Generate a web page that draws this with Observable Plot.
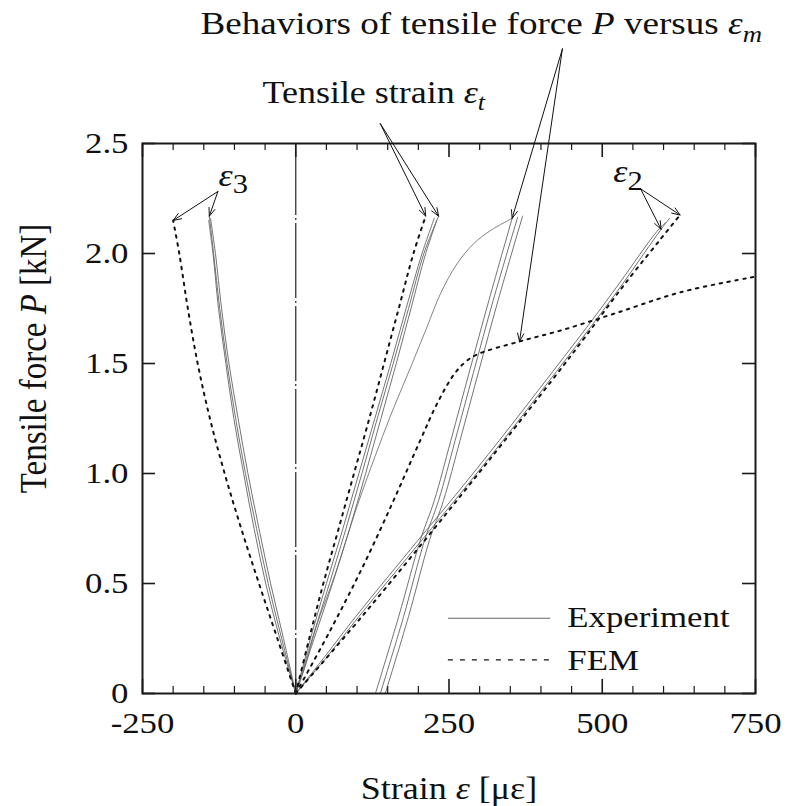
<!DOCTYPE html>
<html>
<head>
<meta charset="utf-8">
<script src="https://cdn.jsdelivr.net/npm/d3@7"></script>
<script src="https://cdn.jsdelivr.net/npm/@observablehq/plot@0.6"></script>
<style>
  html, body { margin: 0; padding: 0; background: #fff; }
</style>
</head>
<body>
<div id="chart"></div>
<script>
// ---- axis ticks -------------------------------------------------------
const xTicks = [-250, 0, 250, 500, 750];
const xTickLabels = ["-250", "0", "250", "500", "750"];
const xMinorTicks = [-200, -150, -100, -50, 50, 100, 150, 200, 300, 350, 400, 450, 550, 600, 650, 700];
const yTicks = [0, 0.5, 1.0, 1.5, 2.0, 2.5];
const yTickLabels = ["0", "0.5", "1.0", "1.5", "2.0", "2.5"];

// ---- measured strain [µε] vs tensile force P [kN] ----------------------
// ε3 (compressive side), three test runs
const e3Exp = [
  [[0,0],[-23,0.25],[-45,0.5],[-64,0.75],[-82,1.0],[-98,1.25],[-112,1.5],[-124,1.75],[-134,2.0],[-141,2.17]],
  [[0,0],[-20,0.25],[-41,0.5],[-60,0.75],[-78,1.0],[-94,1.25],[-109,1.5],[-121,1.75],[-131,2.0],[-139,2.16]],
  [[0,0],[-26,0.25],[-49,0.5],[-68,0.75],[-85,1.0],[-101,1.25],[-114,1.5],[-126,1.75],[-135,2.0],[-142,2.15]]
];
const e3Fem = [[0,0],[-30,0.25],[-60,0.5],[-89,0.75],[-116,1.0],[-140,1.25],[-160,1.5],[-176,1.75],[-190,2.0],[-200,2.15]];

// tensile strain εt
const etExp = [
  [[0,0],[27,0.25],[55,0.5],[82,0.75],[108,1.0],[133,1.25],[159,1.5],[184,1.75],[209,2.0],[233,2.17]],
  [[0,0],[30,0.25],[60,0.5],[88,0.75],[114,1.0],[139,1.25],[164,1.5],[188,1.75],[212,2.0],[230,2.15]],
  [[0,0],[24,0.25],[50,0.5],[77,0.75],[103,1.0],[129,1.25],[155,1.5],[180,1.75],[206,2.0],[226,2.16]]
];
const etFem = [[0,0],[22,0.25],[45,0.5],[70,0.75],[95,1.0],[120,1.25],[144,1.5],[168,1.75],[192,2.0],[212,2.17]];

// εm: first loading, then the reloading cycles
const emLoad = [[0,0],[15,0.12],[33,0.3],[64,0.54],[100,0.85],[135,1.12],[160,1.3],[187,1.48],[214,1.665],[236,1.817],[263,1.953],[290,2.044],[318,2.105],[353,2.16]];
const emCycles = [
  [[130,0],[168,0.35],[203,0.695],[226,0.877],[253,1.15],[283,1.46],[315,1.786],[353,2.16]],
  [[138,0],[176,0.35],[210,0.695],[233,0.877],[260,1.15],[290,1.46],[322,1.786],[362,2.165]],
  [[146,0],[184,0.35],[218,0.695],[241,0.877],[268,1.15],[298,1.46],[330,1.786],[370,2.17]]
];
const emFem = [[0,0],[55,0.28],[110,0.58],[160,0.88],[203,1.15],[231,1.32],[258,1.45],[276,1.505],[295,1.54],[361,1.597],[432,1.65],[519,1.726],[628,1.824],[750,1.895]];

// ε2
const e2Exp = [
  [[0,0],[52,0.17],[103,0.35],[205,0.695],[266,0.9],[338,1.15],[416,1.43],[489,1.695],[534,1.865],[596,2.11],[610,2.16]],
  [[0,0],[48,0.17],[98,0.35],[199,0.695],[260,0.9],[332,1.15],[410,1.43],[483,1.695],[528,1.865],[589,2.1],[603,2.14]]
];
const e2Fem = [[0,0],[108,0.35],[210,0.695],[278,0.93],[341,1.15],[417,1.42],[472,1.62],[537,1.862],[611,2.12],[627,2.175]];

const legendLabels = ["Experiment", "FEM"];

// ---- text with italics and subscripts ----------------------------------
const titleSegs  = [["Behaviors of tensile force "], ["P", "i"], [" versus "], ["ε", "i"], ["m", "isub"]];
const etSegs     = [["Tensile strain "], ["ε", "i"], ["t", "isub"]];
const e3Segs     = [["ε", "i"], ["3", "sub"]];
const e2Segs     = [["ε", "i"], ["2", "sub"]];
const xLabelSegs = [["Strain "], ["ε", "i"], [" [με]"]];
const yLabelSegs = [["Tensile force "], ["P", "i"], [" [kN]"]];
const plain = segs => segs.map(s => s[0]).join("");

// ---- layout -------------------------------------------------------------
const W = 788, H = 806;
const mL = 142, mR = 33, mT = 143, mB = 113;
const FW = W - mL - mR, FH = H - mT - mB;
const SERIF = "'Liberation Serif', 'Times New Roman', Times, serif";

const px = d => d[0], py = d => d[1];
const expLine = {x: px, y: py, stroke: "#636363", strokeWidth: 0.9, curve: "catmull-rom"};
const femLine = {x: px, y: py, stroke: "#111", strokeWidth: 2, strokeDasharray: "2.5,5.5", curve: "catmull-rom"};

// point on a series at a given strain (linear between samples)
function onSeries(series, x) {
  for (let i = 1; i < series.length; i++) {
    const [x0, y0] = series[i - 1], [x1, y1] = series[i];
    if ((x - x0) * (x - x1) <= 0) return [x, y0 + (y1 - y0) * (x - x0) / (x1 - x0)];
  }
  return series[series.length - 1];
}

// callout arrows: from the label to the curve end it names
const arrows = [
  {from: [-127, 2.282], to: e3Fem[e3Fem.length - 1], inset: 3},
  {from: [-127, 2.282], to: e3Exp[0][e3Exp[0].length - 1], inset: 2},
  {from: [138, 2.59], to: etFem[etFem.length - 1], inset: 8},
  {from: [138, 2.59], to: etExp[0][etExp[0].length - 1], inset: 5},
  {from: [435, 2.93], to: emLoad[emLoad.length - 1], inset: 6},
  {from: [435, 2.93], to: onSeries(emFem, 365), inset: 4},
  {from: [562.5, 2.294], to: e2Exp[0][9], inset: 1},
  {from: [562.5, 2.294], to: e2Fem[e2Fem.length - 1], inset: 6}
];

const notes = [
  {segs: titleSegs, x: -155.4, y: 3.0, size: 32},
  {segs: etSegs, x: -54.2, y: 2.686, size: 31},
  {segs: e3Segs, x: -126, y: 2.309, size: 31},
  {segs: e2Segs, x: 518, y: 2.323, size: 31}
];

const marks = [
  // dash-dot zero-strain line
  Plot.ruleX([0], {stroke: "#333", strokeWidth: 1.3, strokeDasharray: "75,3,2,3", strokeDashoffset: 3}),

  // experiment curves
  ...e3Exp.map(run => Plot.line(run, expLine)),
  ...etExp.map(run => Plot.line(run, expLine)),
  Plot.line(emLoad, {...expLine, strokeWidth: 0.8}),
  ...emCycles.map(run => Plot.line(run, expLine)),
  ...e2Exp.map(run => Plot.line(run, expLine)),

  // FEM curves
  Plot.line(e3Fem, femLine),
  Plot.line(etFem, femLine),
  Plot.line(emFem, femLine),
  Plot.line(e2Fem, femLine),

  // frame and inward ticks
  Plot.frame({stroke: "#1a1a1a", strokeWidth: 2}),
  Plot.ruleX(xTicks, {insetTop: FH - 14, stroke: "#1a1a1a", strokeWidth: 1.6}),
  Plot.ruleX(xTicks, {insetBottom: FH - 14, stroke: "#1a1a1a", strokeWidth: 1.6}),
  Plot.ruleX(xMinorTicks, {insetTop: FH - 7, stroke: "#1a1a1a", strokeWidth: 1.2}),
  Plot.ruleX(xMinorTicks, {insetBottom: FH - 7, stroke: "#1a1a1a", strokeWidth: 1.2}),
  Plot.ruleY(yTicks, {insetRight: FW - 13, stroke: "#1a1a1a", strokeWidth: 1.6}),
  Plot.ruleY(yTicks, {insetLeft: FW - 13, stroke: "#1a1a1a", strokeWidth: 1.6}),

  // tick labels
  Plot.axisX({ticks: xTicks, tickSize: 0, tickPadding: 18, label: null,
    tickFormat: d => xTickLabels[xTicks.indexOf(d)]}),
  Plot.axisY({ticks: yTicks, tickSize: 0, tickPadding: 14, label: null,
    tickFormat: d => yTickLabels[yTicks.indexOf(d)]}),

  // axis titles
  Plot.text([plain(xLabelSegs)], {frameAnchor: "bottom", dy: 105, textAnchor: "middle", lineAnchor: "bottom", fontSize: 31}),
  Plot.text([plain(yLabelSegs)], {frameAnchor: "left", dx: -109, dy: -60, rotate: -90, textAnchor: "middle", lineAnchor: "middle", fontSize: 33}),

  // callouts
  Plot.arrow(arrows, {
    x1: d => d.from[0], y1: d => d.from[1], x2: d => d.to[0], y2: d => d.to[1],
    insetEnd: d => d.inset, stroke: "#111", strokeWidth: 1, headLength: 13, headAngle: 42
  }),
  Plot.text(notes, {x: "x", y: "y", text: d => plain(d.segs), fontSize: d => d.size,
    textAnchor: "start", lineAnchor: "bottom", fill: "#111"}),

  // legend
  Plot.ruleY([0.342], {x1: 249, x2: 416, stroke: "#636363", strokeWidth: 1.2}),
  Plot.ruleY([0.153], {x1: 249, x2: 416, stroke: "#111", strokeWidth: 1.4, strokeDasharray: "5,7"}),
  Plot.text(legendLabels, {x: 443, y: (d, i) => [0.301, 0.105][i], textAnchor: "start", lineAnchor: "bottom", fontSize: 30, fill: "#111"})
];

const chart = Plot.plot({
  width: W, height: H,
  marginLeft: mL, marginRight: mR, marginTop: mT, marginBottom: mB,
  x: {domain: [-250, 750]},
  y: {domain: [0, 2.5]},
  style: {fontFamily: SERIF, fontSize: "30px", color: "#111", background: "#fff"},
  marks
});

// rich text: italic symbols and subscripts
const richMap = new Map([titleSegs, etSegs, e3Segs, e2Segs, xLabelSegs, yLabelSegs].map(s => [plain(s), s]));
const NS = "http://www.w3.org/2000/svg";
chart.querySelectorAll("text").forEach(t => {
  const segs = richMap.get(t.textContent);
  if (!segs) return;
  while (t.firstChild) t.removeChild(t.firstChild);
  for (const [str, kind] of segs) {
    const ts = document.createElementNS(NS, "tspan");
    ts.textContent = str;
    if (kind === "i" || kind === "isub") ts.setAttribute("font-style", "italic");
    if (kind === "sub") { ts.setAttribute("font-size", "0.85em"); ts.setAttribute("dy", "0.3em"); }
    if (kind === "isub") { ts.setAttribute("font-size", "0.72em"); ts.setAttribute("dy", "0.35em"); }
    t.appendChild(ts);
  }
});

// the typeface in this figure is set slightly wide
const STRETCH = 1.16;
chart.querySelectorAll("text").forEach(t => {
  const tr = t.getAttribute("transform") || "";
  const m = tr.match(/^translate\([^)]*\)/);
  if (m) {
    t.setAttribute("transform", `${m[0]} scale(${STRETCH},1)${tr.slice(m[0].length)}`);
  } else {
    const x = +(t.getAttribute("x") || 0), y = +(t.getAttribute("y") || 0);
    t.removeAttribute("x"); t.removeAttribute("y");
    t.setAttribute("transform", `translate(${x},${y}) scale(${STRETCH},1) ${tr}`);
  }
});

document.getElementById("chart").appendChild(chart);
</script>
</body>
</html>
